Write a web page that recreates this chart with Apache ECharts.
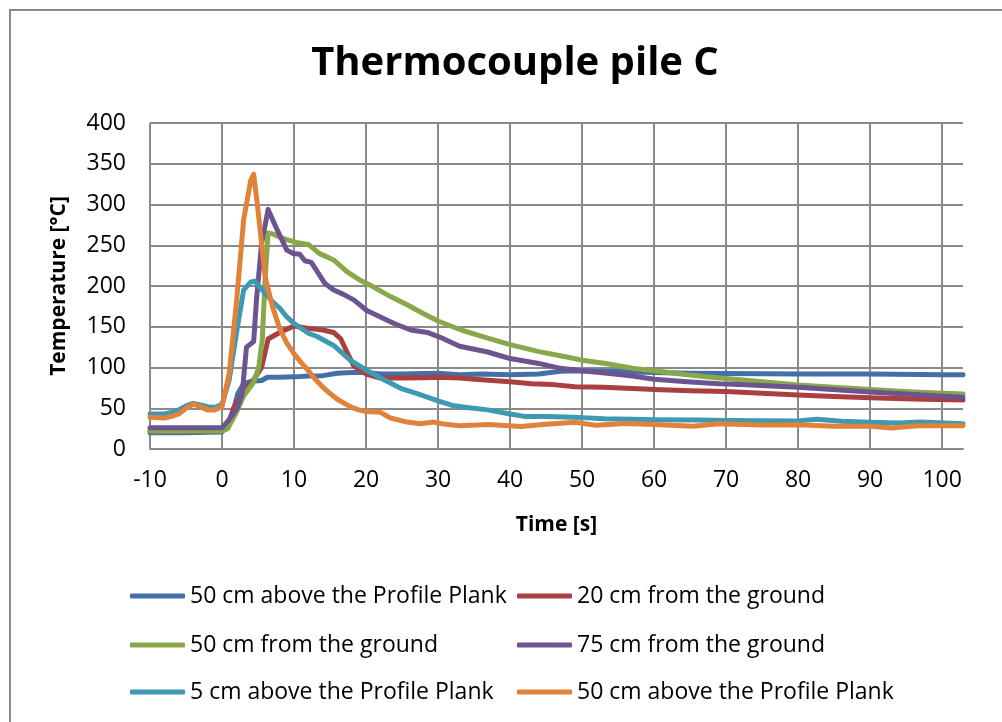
<!DOCTYPE html>
<html>
<head>
<meta charset="utf-8">
<script src="https://cdn.jsdelivr.net/npm/echarts@6/dist/echarts.min.js"></script>
<style>
html,body{margin:0;padding:0;background:#fff;}
#chart{width:1002px;height:722px;}
</style>
</head>
<body>
<div id="chart"></div>
<script>
// ---- data: [time s, temperature °C] ----
var titleText = 'Thermocouple pile C';
var xAxisName = 'Time [s]';
var yAxisName = 'Temperature [°C]';
var seriesLabels = [
  '50 cm above the Profile Plank',
  '20 cm from the ground',
  '50 cm from the ground',
  '75 cm from the ground',
  '5 cm above the Profile Plank',
  '50 cm above the Profile Plank'
];
var seriesColors = ['#4470A8', '#A9403F', '#88A84A', '#6C5490', '#3D9AB2', '#E0823A'];

var plank50a = [[-10,20],[-5,20],[0,21],[0.8,30],[1.5,45],[2.2,68],[3,80],[4,83],[5.5,84],[6.3,88],[8,88],[10,88.5],[12,89.5],[14,90],[16,93],[18,94],[20,94],[22,92],[25,92],[28,92.5],[30,93],[33,91],[36,92],[40,91],[44,92],[47,95.5],[50,96],[55,95],[60,94],[65,93],[70,92.5],[80,92],[90,92],[100,91],[102.9,91]];
var ground20 = [[-10,22],[0,22],[0.7,27],[1.6,50],[3,70],[4.4,85],[5.5,100],[6.4,135],[8,143],[10,151],[12,148],[14,146],[15.5,143],[16.5,135],[17.3,120],[18.3,102],[20,92],[22,87],[25,87],[28,87.5],[30,88],[33,87],[36,85],[40,82.6],[43,80],[46,79],[49,76.5],[53,75.8],[57,74.2],[60,73],[65,71.6],[70,70.5],[75,68.5],[80,66.3],[85,64.5],[90,63],[96,61.5],[102.9,60]];
var ground50 = [[-10,22],[0,22],[0.8,25],[2,45],[3,65],[4.4,82],[5.1,100],[5.6,135],[6,211],[6.4,265],[7,264],[8,260],[9,257],[10.5,253],[12,251],[13.5,240],[15.5,232],[17.3,218],[19.2,207],[21,199],[23.4,187],[25.7,177],[28,166],[30,157],[33.2,146],[36.9,136],[40,128],[44,119.5],[47,114.5],[50,109],[53.5,104.5],[57,99],[60,96],[64.6,91],[69,87],[72,85],[80,78.5],[90,73],[96,70],[102.9,67.5]];
var ground75 = [[-10,26],[0,26],[0.9,35],[2.1,50],[2.8,68],[3.4,125],[4.4,132],[4.8,185],[5.5,252],[6.4,294],[7.5,272],[9,244],[9.9,240],[10.8,239],[11.5,231],[12.4,229],[14.3,203],[15.5,195],[16.8,190],[18.3,183],[20.1,170],[22,162],[23.9,154],[26.2,146],[28.5,143],[30.3,137],[33,126],[36.9,119],[40,111],[44,105],[47,99],[50,96],[53.5,93],[57,89.6],[60,85.5],[64.6,82.6],[69,80],[72,79],[80,75.7],[90,70],[96,67],[102.9,63.4]];
var plank5 = [[-10,43],[-8,43],[-7,45],[-6,48],[-5,53],[-4,56],[-3,54],[-2,52],[-1,51],[0,55],[1,85],[2,142],[3,195],[4,205],[4.6,206],[5,201],[6,191],[7,181],[8,173],[9,162],[10,154],[12,142],[13.2,138],[15.5,127],[17.8,109],[20,97],[22.5,85],[24.8,74.5],[27.1,68],[30,59],[32.2,53],[34,51],[36.9,48],[40,43],[42,40],[45,40],[50,38.5],[53,37],[57,36.4],[60,36],[66,35.6],[70,35],[80,34.5],[82.6,36.5],[86,34],[90,32.7],[94,32],[97,33],[102.9,31]];
var plank50b = [[-10,39],[-8,38],[-7,40],[-6,43],[-5,50],[-4,55],[-3,52],[-2,48],[-1,48],[0,52],[1,93],[2,179],[3,281],[4,330],[4.4,337],[5,293],[6,211],[7,175],[8,148],[9,130],[10,117],[11,106],[12,96],[13,85],[14,76],[15,68],[16,61],[17,56],[18,51],[19,48],[20,46],[22,45],[23.4,38],[25.7,33],[27.5,31],[29.4,33],[30.5,31],[33,28.6],[37,30],[41.5,27.7],[45,30.5],[49,32.7],[52,29],[56,31.4],[60,30],[65.4,28],[69,31],[75,29.5],[80,29.8],[85,27.8],[90,28],[93,25.7],[96.6,28.5],[102.9,28.4]];

var allData = [plank50a, ground20, ground50, ground75, plank5, plank50b];
var xMin = -10, xMax = 102.9, xStep = 10;
var yMin = 0, yMax = 400, yStep = 50;

var FONT = '"Open Sans", "Liberation Sans", sans-serif';
var GRID_C = '#8a8a8a';

var chart = echarts.init(document.getElementById('chart'), null, {renderer: 'canvas'});

var series = allData.map(function (d, i) {
  return {
    name: 's' + i,
    type: 'line',
    data: d,
    showSymbol: false,
    symbol: 'none',
    smooth: false,
    lineStyle: {width: 5, color: seriesColors[i], cap: 'round', join: 'round'},
    itemStyle: {color: seriesColors[i]},
    emphasis: {disabled: true}
  };
});

// legend layout: two columns, three rows
var legendPos = [[130, 596], [517, 596], [130, 645], [517, 645], [130, 692], [517, 692]];
var legends = legendPos.map(function (p, i) {
  return {
    data: ['s' + i],
    left: p[0],
    top: p[1] - 15,
    icon: 'roundRect',
    itemWidth: 55,
    itemHeight: 5,
    itemGap: 0,
    padding: 0,
    selectedMode: false,
    formatter: function () { return seriesLabels[i]; },
    textStyle: {fontFamily: FONT, fontSize: 23, color: '#000', lineHeight: 30}
  };
});

chart.setOption({
  animation: false,
  backgroundColor: '#fff',
  title: {
    text: titleText,
    left: 510,
    top: 39,
    textAlign: 'center',
    textStyle: {fontFamily: FONT, fontSize: 40, fontWeight: 'bold', color: '#000'}
  },
  graphic: [{
    type: 'rect',
    shape: {x: 10, y: 10, width: 1010, height: 730},
    style: {fill: 'none', stroke: '#8a8a8a', lineWidth: 2},
    silent: true
  }],
  legend: legends,
  grid: {left: 150, right: 39, top: 123, bottom: 273, containLabel: false},
  xAxis: {
    type: 'value',
    min: xMin, max: xMax, interval: xStep,
    name: xAxisName,
    nameLocation: 'middle',
    nameGap: 66,
    nameTextStyle: {fontFamily: FONT, fontSize: 21, fontWeight: 'bold', color: '#000'},
    axisLine: {show: true, onZero: false, lineStyle: {color: GRID_C, width: 2}},
    axisTick: {show: false},
    axisLabel: {fontFamily: FONT, fontSize: 23, color: '#000', margin: 20, showMaxLabel: false,
      formatter: function (v) { return (Math.round(v) % 10 === 0) ? String(v) : ''; }},
    splitLine: {show: true, showMaxLine: false, lineStyle: {color: GRID_C, width: 2}}
  },
  yAxis: {
    type: 'value',
    min: yMin, max: yMax, interval: yStep,
    name: yAxisName,
    nameLocation: 'middle',
    nameGap: 80,
    nameTextStyle: {fontFamily: FONT, fontSize: 21, fontWeight: 'bold', color: '#000'},
    axisLine: {show: true, lineStyle: {color: GRID_C, width: 2}},
    axisTick: {show: false},
    axisLabel: {fontFamily: FONT, fontSize: 23, color: '#000', margin: 24},
    splitLine: {show: true, lineStyle: {color: GRID_C, width: 2}}
  },
  tooltip: {show: false},
  series: series
});
</script>
</body>
</html>
